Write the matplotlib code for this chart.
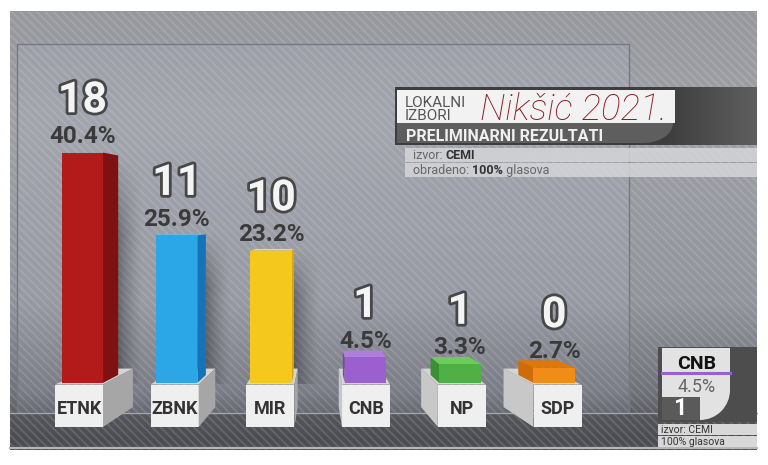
import numpy as np
import matplotlib
matplotlib.use("Agg")
import matplotlib.pyplot as plt
import matplotlib.patheffects as pe
from matplotlib.patches import Rectangle, Polygon, Wedge

plt.rcParams["font.family"] = ["Roboto", "DejaVu Sans"]
plt.rcParams["hatch.linewidth"] = 1.4

# --- data -------------------------------------------------------------
parties = ["ETNK", "ZBNK", "MIR", "CNB", "NP", "SDP"]
seats = [18, 11, 10, 1, 1, 0]
share = [40.4, 25.9, 23.2, 4.5, 3.3, 2.7]

front_colors = ["#b31b1b", "#2ba6e6", "#f4c81c", "#9b5fcf", "#4fb045", "#f28c18"]
side_colors = ["#7e1212", "#1872b8", "#d9a90c", "#7e45b0", "#3a9032", "#d06c08"]
top_colors = ["#c83030", "#5cc0f0", "#f8d850", "#b07fdc", "#6ccc5a", "#dc780c"]

# --- layout (pixels of the 768x465 frame) -----------------------------
W, H = 768, 465
X0_PX, STEP_PX = 79.0, 95.7          # first pedestal centre, spacing
BASE_PX, PX_PER_PCT = 384.5, 5.756   # 0 % line, pixels per percent

# simple one-point perspective for the 3d boxes, in data units
VX = (318 - X0_PX) / STEP_PX
VY = (BASE_PX - 215) / PX_PER_PCT
KX, KY = 0.139, 0.094

BAR_W, PED_W = 42 / STEP_PX, 48 / STEP_PX
PED_BOTTOM = (BASE_PX - 427) / PX_PER_PCT
Z0, Z1 = 0.1, 0.6


def proj(x, y, z):
    return x + (VX - x) * KX * z, y + (VY - y) * KY * z


fig = plt.figure(figsize=(W / 100, H / 100), dpi=100)
fig.patch.set_facecolor("white")

# --- background -------------------------------------------------------
bg = fig.add_axes([0, 0, 1, 1])
stops_y = [12, 120, 300, 392, 413, 414, 440, 450]
stops_c = np.array([
    (150, 152, 158), (158, 160, 166), (146, 148, 155), (112, 114, 121),
    (92, 94, 100), (84, 86, 92), (74, 76, 82), (80, 82, 88),
]) / 255
ys = np.arange(12, 450)
grad = np.stack([np.interp(ys, stops_y, stops_c[:, k]) for k in range(3)], axis=-1)
bg.imshow(grad[:, None, :], extent=(10, 757, 450, 12), aspect="auto",
          interpolation="bilinear", zorder=0)
bg.add_patch(Rectangle((10, 12), 747, 438, fc="none", ec=(1, 1, 1, 0.13),
                       hatch="\\" * 4, lw=0, zorder=1))
bg.add_patch(Rectangle((17, 44), 612, 369, fc=(0.80, 0.82, 0.95, 0.10),
                       ec="#767884", lw=1, zorder=1))
bg.plot([10, 757], [413, 413], color="#a4a6ae", lw=0.9, zorder=1)
bg.plot([10, 757], [448, 448], color="#b4b6ba", lw=1.5, zorder=1)

# title block
box = np.linspace(0, 1, 200)
box_c = np.interp(box, [0, 0.75, 1], [0.24, 0.24, 0.37])
bg.imshow(np.repeat(box_c[None, :, None], 3, axis=2), extent=(395, 757, 145, 88),
          aspect="auto", zorder=2)
bg.add_patch(Rectangle((397, 90), 278, 33, fc="#f2f2f2", ec="none", zorder=3))
ang = np.linspace(0, np.pi / 2, 20)
tab = [(397, 123), (673, 123)] + [(643 + 30 * np.cos(a), 123 + 20 * np.sin(a)) for a in ang] + [(397, 143)]
bg.add_patch(Polygon(tab, closed=True, fc="#5e5e5e", ec="none", zorder=3))
for y0 in (148, 163):
    bg.add_patch(Rectangle((405, y0), 352, 14, fc=(0.84, 0.84, 0.85, 0.85), ec="none", zorder=3))

bg.text(405, 107, "LOKALNI", fontsize=11, color="#555555", va="baseline", zorder=4)
bg.text(405, 120, "IZBORI", fontsize=11, color="#555555", va="baseline", zorder=4)
bg.text(480, 120, "Nikšić 2021.", fontsize=26.5, style="italic", fontweight="light",
        color="#8b1a22", va="baseline", zorder=4)
bg.text(406, 141, "PRELIMINARNI REZULTATI", fontsize=11.5, fontweight="bold",
        color="#f0f0f0", va="baseline", zorder=4)

t1 = bg.text(413, 159, "izvor: ", fontsize=9, color="#666666", va="baseline", zorder=4)
bg.annotate("CEMI", xy=(1, 0), xycoords=t1, va="bottom", fontsize=9,
            fontweight="bold", color="#333333", zorder=4)
t2 = bg.text(413, 174, "obradeno: ", fontsize=9, color="#666666", va="baseline", zorder=4)
t3 = bg.annotate("100%", xy=(1, 0), xycoords=t2, va="bottom", fontsize=9,
                 fontweight="bold", color="#333333", zorder=4)
bg.annotate(" glasova", xy=(1, 0), xycoords=t3, va="bottom", fontsize=9,
            color="#666666", zorder=4)

# small CNB card, bottom right
bg.add_patch(Rectangle((658, 347), 99, 75, fc="#4d4d4d", ec="none", zorder=2))
bg.add_patch(Rectangle((662, 348), 68, 42, fc="#e2e2e2", ec="none", zorder=3))
bg.add_patch(Rectangle((662, 390), 38, 30, fc="#e2e2e2", ec="none", zorder=3))
bg.add_patch(Wedge((700, 390), 30, 0, 90, fc="#e2e2e2", ec="none", zorder=3))
bg.add_patch(Rectangle((662, 397), 38, 23, fc="#5a5a5a", ec="none", zorder=3))
bg.plot([662, 730], [373, 373], color=front_colors[3], lw=2.2, zorder=4)
bg.text(697, 369, parties[3], ha="center", va="baseline", fontsize=14,
        fontweight="bold", color="#111111", zorder=4)
bg.text(697, 392, f"{share[3]:.1f}%", ha="center", va="baseline", fontsize=13,
        color="#666666", zorder=4)
bg.text(673, 415, str(seats[3]), va="baseline", fontsize=17, fontweight="bold",
        color="white", zorder=4)
for y0 in (424, 436):
    bg.add_patch(Rectangle((658, y0), 99, 11, fc="#d8d8d8", ec="none", zorder=3))
bg.text(661, 433, "izvor: CEMI", fontsize=7.5, color="#333333", va="baseline", zorder=4)
bg.text(661, 445, "100% glasova", fontsize=7.5, color="#333333", va="baseline", zorder=4)

bg.set_xlim(0, W)
bg.set_ylim(H, 0)
bg.axis("off")

# --- bars -------------------------------------------------------------
ax = fig.add_axes([0, 0, 1, 1], facecolor="none")

num_fx = [pe.withStroke(linewidth=4, foreground="#474747")]
# shadow: fades sideways and towards the top
hfade = (1 - np.linspace(0, 1, 48)) ** 1.5
vfade = np.clip(np.linspace(0, 1, 64) / 0.35, 0, 1)
fade = np.zeros((64, 48, 4))
fade[..., 3] = 0.32 * vfade[:, None] * hfade[None, :]
SH_W = 26 / STEP_PX

for i, (name, s, v) in enumerate(zip(parties, seats, share)):
    p0, p1 = i - PED_W / 2, i + PED_W / 2
    b0, b1 = i - BAR_W / 2, i + BAR_W / 2
    xs = b1 if i < VX else b0

    # soft shadow on the wall beside the bar (only for the tall ones)
    sx, sy = proj(xs, v, Z1)
    if v > 10:
        ax.imshow(fade, extent=(sx, sx + SH_W, 0, sy), aspect="auto",
                  origin="upper", zorder=1.5)

    ped_top = [proj(p0, 0, 0), proj(p1, 0, 0), proj(p1, 0, 1), proj(p0, 0, 1)]
    ax.add_patch(Polygon(ped_top, closed=True, fc="#d4d4d4", ec="none", zorder=2))

    side = [proj(xs, 0, Z0), proj(xs, v, Z0), proj(xs, v, Z1), proj(xs, 0, Z1)]
    ax.add_patch(Polygon(side, closed=True, fc=side_colors[i], ec="none", zorder=3))
    if v < VY:
        cap = [proj(b0, v, Z0), proj(b1, v, Z0), proj(b1, v, Z1), proj(b0, v, Z1)]
        ax.add_patch(Polygon(cap, closed=True, fc=top_colors[i], ec="none", zorder=3))
    l, bot = proj(b0, 0, Z0)
    r, t = proj(b1, v, Z0)
    ax.bar((l + r) / 2, t - bot, width=r - l, bottom=bot, color=front_colors[i], zorder=3.5)

    # pedestal front and side
    ax.add_patch(Rectangle((p0, PED_BOTTOM), PED_W, -PED_BOTTOM, fc="#efefef", ec="none", zorder=4))
    xp = p1 if i < VX else p0
    ped_side = [proj(xp, 0, 0), proj(xp, PED_BOTTOM, 0), proj(xp, PED_BOTTOM, 1), proj(xp, 0, 1)]
    ax.add_patch(Polygon(ped_side, closed=True, fc="#a6a6a6" if i < VX else "#c8c8c8",
                         ec="none", zorder=4))
    ax.text(i, PED_BOTTOM * 0.57, name, ha="center", va="center", fontsize=13,
            fontweight="bold", color="#333333", zorder=5)

    cx = (l + r) / 2
    ax.annotate(f"{v:.1f}%", xy=(cx, t), xytext=(0, 7), textcoords="offset points",
                ha="center", va="baseline", fontsize=17.5, fontweight="bold",
                color="#3a3a3a", zorder=5)
    ax.annotate(str(s), xy=(cx, t), xytext=(0, 29), textcoords="offset points",
                ha="center", va="baseline", fontsize=31, fontweight="bold",
                color="#f4f4f4", path_effects=num_fx, zorder=5)

ax.set_xlim(-X0_PX / STEP_PX, (W - X0_PX) / STEP_PX)
ax.set_ylim(-(H - BASE_PX) / PX_PER_PCT, BASE_PX / PX_PER_PCT)
ax.axis("off")

fig.savefig("out.png", dpi=100)
